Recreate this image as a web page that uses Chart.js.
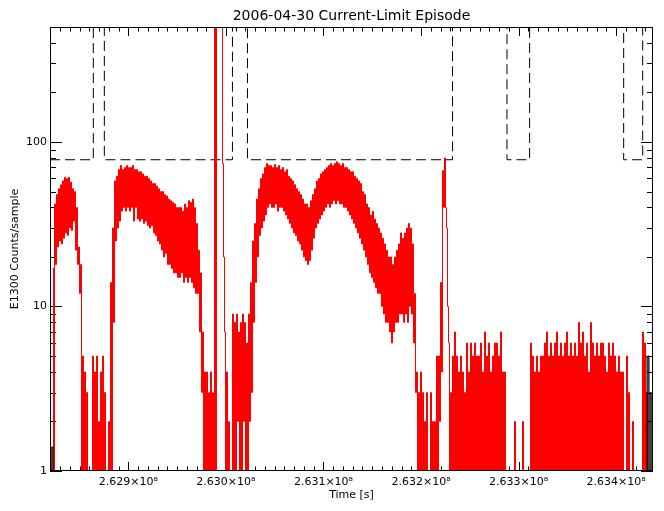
<!DOCTYPE html>
<html><head><meta charset="utf-8">
<script src="https://cdn.jsdelivr.net/npm/chart.js@4/dist/chart.umd.min.js"></script>
<style>html,body{margin:0;padding:0;background:#fff;}canvas{display:block;}</style>
</head><body>
<canvas id="c" width="664" height="511"></canvas>
<script>
// ---- texts ----
const chartTitle = '2006-04-30 Current-Limit Episode';
const xAxisTitle = 'Time [s]';
const yAxisTitle = 'E1300 Counts/sample';

// ---- axes ----
const xMin = 262819700, xMax = 263437775;
const yMin = 1, yMax = 500;
const xMajorTicks = [262900000, 263000000, 263100000, 263200000, 263300000, 263400000];
const xTickLabels = ['2.629×10⁸', '2.630×10⁸', '2.631×10⁸', '2.632×10⁸', '2.633×10⁸', '2.634×10⁸'];
const xMinorStep = 10000;
const yMajorTicks = [1, 10, 100];
const yTickLabels = ['1', '10', '100'];
const yMinorTicks = [2,3,4,5,6,7,8,9,20,30,40,50,60,70,80,90,200,300,400];

// ---- current-limit flag (dashed step line) ----
const limitTimes  = [262819700, 262864100, 262875400, 263006700, 263022100, 263232300, 263288100, 263311300, 263407700, 263427200, 263437775];
const limitLevels = [78, 1000, 78, 1000, 78, 1000, 78, 1000, 78, 1000, 1000];

// ---- E1300 counts (per 2050 s bin: upper / lower envelope) ----
const redStart = 262822262.5;
const redStep = 2050;
const redHi = [
 17,42,48,52,55,58,61,60,61,57,
 52,50,40,23,18,5,4,3,1,1,
 5,4,5,2,4,5,3,1,2,14,
 30,58,62,68,72,68,70,72,70,70,
 72,68,68,66,66,64,62,62,60,58,
 56,56,54,52,50,50,48,47,45,44,
 43,42,40,40,40,38,42,40,44,43,
 45,40,32,22,16,7,4,4,3,4,
 3,1000,1000,1000,1000,74,7,4,2,1,
 9,8,9,7,8,9,8,6,9,14,
 25,32,45,52,60,64,70,74,72,72,
 70,73,70,72,68,70,66,68,62,60,
 58,55,52,50,48,45,42,42,40,44,
 48,52,58,60,64,66,68,70,72,74,
 72,74,76,74,72,74,70,70,68,66,
 66,62,60,58,56,50,48,42,40,36,
 38,34,32,30,28,26,24,22,20,20,
 18,20,22,24,28,26,28,30,32,30,
 24,12,4,3,4,3,2,3,1,3,
 2,2,5,5,14,67,80,30,6,3,
 5,7,5,4,5,4,3,6,4,6,
 5,6,5,5,6,4,7,5,6,4,
 5,6,6,5,7,4,4,1,1,1,
 1,2,1,1,1,2,1,1,1,6,
 5,4,5,4,5,5,6,7,5,6,
 5,6,7,5,6,5,6,7,5,6,
 5,6,5,8,6,7,5,6,4,8,
 6,5,6,5,6,6,5,4,6,5,
 6,5,4,5,4,4,1,5,3,1,
 2,1,1,1,1,7,6,3
];
const redLo = [
 1,18,23,25,24,26,28,27,30,29,
 33,22,18,12,1,1,1,1,1,1,
 1,1,1,1,1,1,1,1,1,1,
 8,25,30,33,38,40,38,40,38,40,
 33,40,34,33,34,32,33,31,30,31,
 28,27,25,24,22,20,21,18,18,17,
 16,16,15,15,16,14,15,14,15,14,
 13,12,12,7,3,1,1,1,1,1,
 1,1,1000,1000,1000,20,1,1,1,1,
 1,1,2,1,1,2,1,1,2,3,
 8,14,20,27,30,33,36,40,42,40,
 40,42,38,40,40,38,36,34,32,30,
 28,27,25,24,22,20,19,18,19,22,
 26,30,32,34,36,38,40,42,40,42,
 44,42,44,42,42,40,40,38,36,34,
 32,30,28,26,24,22,20,18,16,15,
 14,13,12,12,10,9,8,8,7,6,
 7,8,8,9,9,8,9,8,10,9,
 6,3,1,1,1,1,1,1,1,1,
 1,1,1,2,4,40,40,10,1,1,
 1,1,1,1,1,1,1,1,1,1,
 1,1,1,1,1,1,1,1,1,1,
 1,1,1,1,1,1,1,1,1,1,
 1,1,1,1,1,1,1,1,1,1,
 1,1,1,1,1,1,1,1,1,1,
 1,1,1,1,1,1,1,1,1,1,
 1,1,1,1,1,1,1,1,1,1,
 1,1,1,1,1,1,1,1,1,1,
 1,1,1,1,1,1,1,1,1,1,
 1,1,1,1,1,1,1,1
];

// ---- full-range counts (black, visible only at the edges) ----
const blackLeftTimes  = [262819700, 262820725, 262821750, 262822775];
const blackLeftValues = [1.4, 1, 1.4, 1];
const blackRightTimes  = [263430600, 263431625, 263432650, 263433675, 263434700, 263435725, 263436750, 263437775];
const blackRightValues = [5, 1, 5, 1, 3, 1, 3, 1];

// ---- build datasets ----
const redPoints = [];
redHi.forEach((h, i) => {
  const t = redStart + i * redStep;
  redPoints.push({x: t, y: h});
  redPoints.push({x: t + redStep / 2, y: redLo[i]});
});
const limitPoints = limitTimes.map((t, i) => ({x: t, y: limitLevels[i]}));
const blackPoints = blackLeftTimes.map((t, i) => ({x: t, y: blackLeftValues[i]}))
  .concat([{x: blackLeftTimes[3] + 500, y: null}])
  .concat(blackRightTimes.map((t, i) => ({x: t, y: blackRightValues[i]})));

const FONT = 'DejaVu Sans';

const idlAxes = {
  id: 'idlAxes',
  beforeDatasetsDraw(chart) {
    const {ctx, chartArea: a, scales: {x, y}} = chart;
    ctx.save();
    ctx.strokeStyle = '#000';
    ctx.lineWidth = 1;
    ctx.beginPath();
    for (let v = Math.ceil(xMin / xMinorStep) * xMinorStep; v <= xMax; v += xMinorStep) {
      const major = xMajorTicks.includes(v);
      const len = major ? 9 : 4.5;
      const px = Math.round(x.getPixelForValue(v)) + 0.5;
      ctx.moveTo(px, a.bottom); ctx.lineTo(px, a.bottom - len);
      ctx.moveTo(px, a.top); ctx.lineTo(px, a.top + len);
    }
    const yt = yMajorTicks.map(v => [v, 12]).concat(yMinorTicks.map(v => [v, 6]));
    yt.forEach(([v, len]) => {
      const py = Math.round(y.getPixelForValue(v)) + 0.5;
      ctx.moveTo(a.left, py); ctx.lineTo(a.left + len, py);
      ctx.moveTo(a.right, py); ctx.lineTo(a.right - len, py);
    });
    ctx.stroke();
    ctx.restore();
  },
  afterDatasetsDraw(chart) {
    const {ctx, chartArea: a} = chart;
    ctx.save();
    ctx.strokeStyle = '#000';
    ctx.lineWidth = 1;
    ctx.strokeRect(a.left + 0.5, a.top + 0.5, a.right - a.left - 1, a.bottom - a.top - 1);
    ctx.fillStyle = '#000';
    ctx.font = '14px "' + FONT + '"';
    ctx.textAlign = 'center';
    ctx.textBaseline = 'middle';
    ctx.fillText(chartTitle, (a.left + a.right) / 2, 16);
    ctx.restore();
  }
};

new Chart(document.getElementById('c'), {
  type: 'line',
  data: {
    datasets: [
      {data: blackPoints, borderColor: '#000', borderWidth: 1, pointRadius: 0, stepped: true, spanGaps: false, clip: 0},
      {data: redPoints, borderColor: '#ff0000', borderWidth: 1, pointRadius: 0, stepped: true, clip: 0},
      {data: limitPoints, borderColor: '#000', borderWidth: 1, borderDash: [10, 5], pointRadius: 0, stepped: true, clip: 0}
    ]
  },
  options: {
    responsive: false,
    animation: false,
    devicePixelRatio: 1,
    layout: {padding: {top: 27, right: 11, left: 0, bottom: 0}},
    plugins: {legend: {display: false}, tooltip: {enabled: false}, title: {display: false}},
    scales: {
      x: {
        type: 'linear', min: xMin, max: xMax,
        grid: {display: false, drawTicks: false},
        border: {display: false},
        afterFit(s) { s.height = 40; },
        afterBuildTicks(s) { s.ticks = xMajorTicks.map(v => ({value: v})); },
        ticks: {
          color: '#000', padding: 5, maxRotation: 0, autoSkip: false,
          font: {family: FONT, size: 11},
          callback: (v) => xTickLabels[xMajorTicks.indexOf(v)]
        },
        title: {display: true, text: xAxisTitle, color: '#000', font: {family: FONT, size: 11}, padding: {top: 0, bottom: 9}}
      },
      y: {
        type: 'logarithmic', min: yMin, max: yMax,
        grid: {display: false, drawTicks: false},
        border: {display: false},
        afterFit(s) { s.width = 50; },
        afterBuildTicks(s) { s.ticks = yMajorTicks.map(v => ({value: v})); },
        ticks: {
          color: '#000', padding: 3, autoSkip: false,
          font: {family: FONT, size: 11},
          callback: (v) => yTickLabels[yMajorTicks.indexOf(v)]
        },
        title: {display: true, text: yAxisTitle, color: '#000', font: {family: FONT, size: 11}, padding: {top: 9, bottom: 0}}
      }
    }
  },
  plugins: [idlAxes]
});
</script>
</body></html>
